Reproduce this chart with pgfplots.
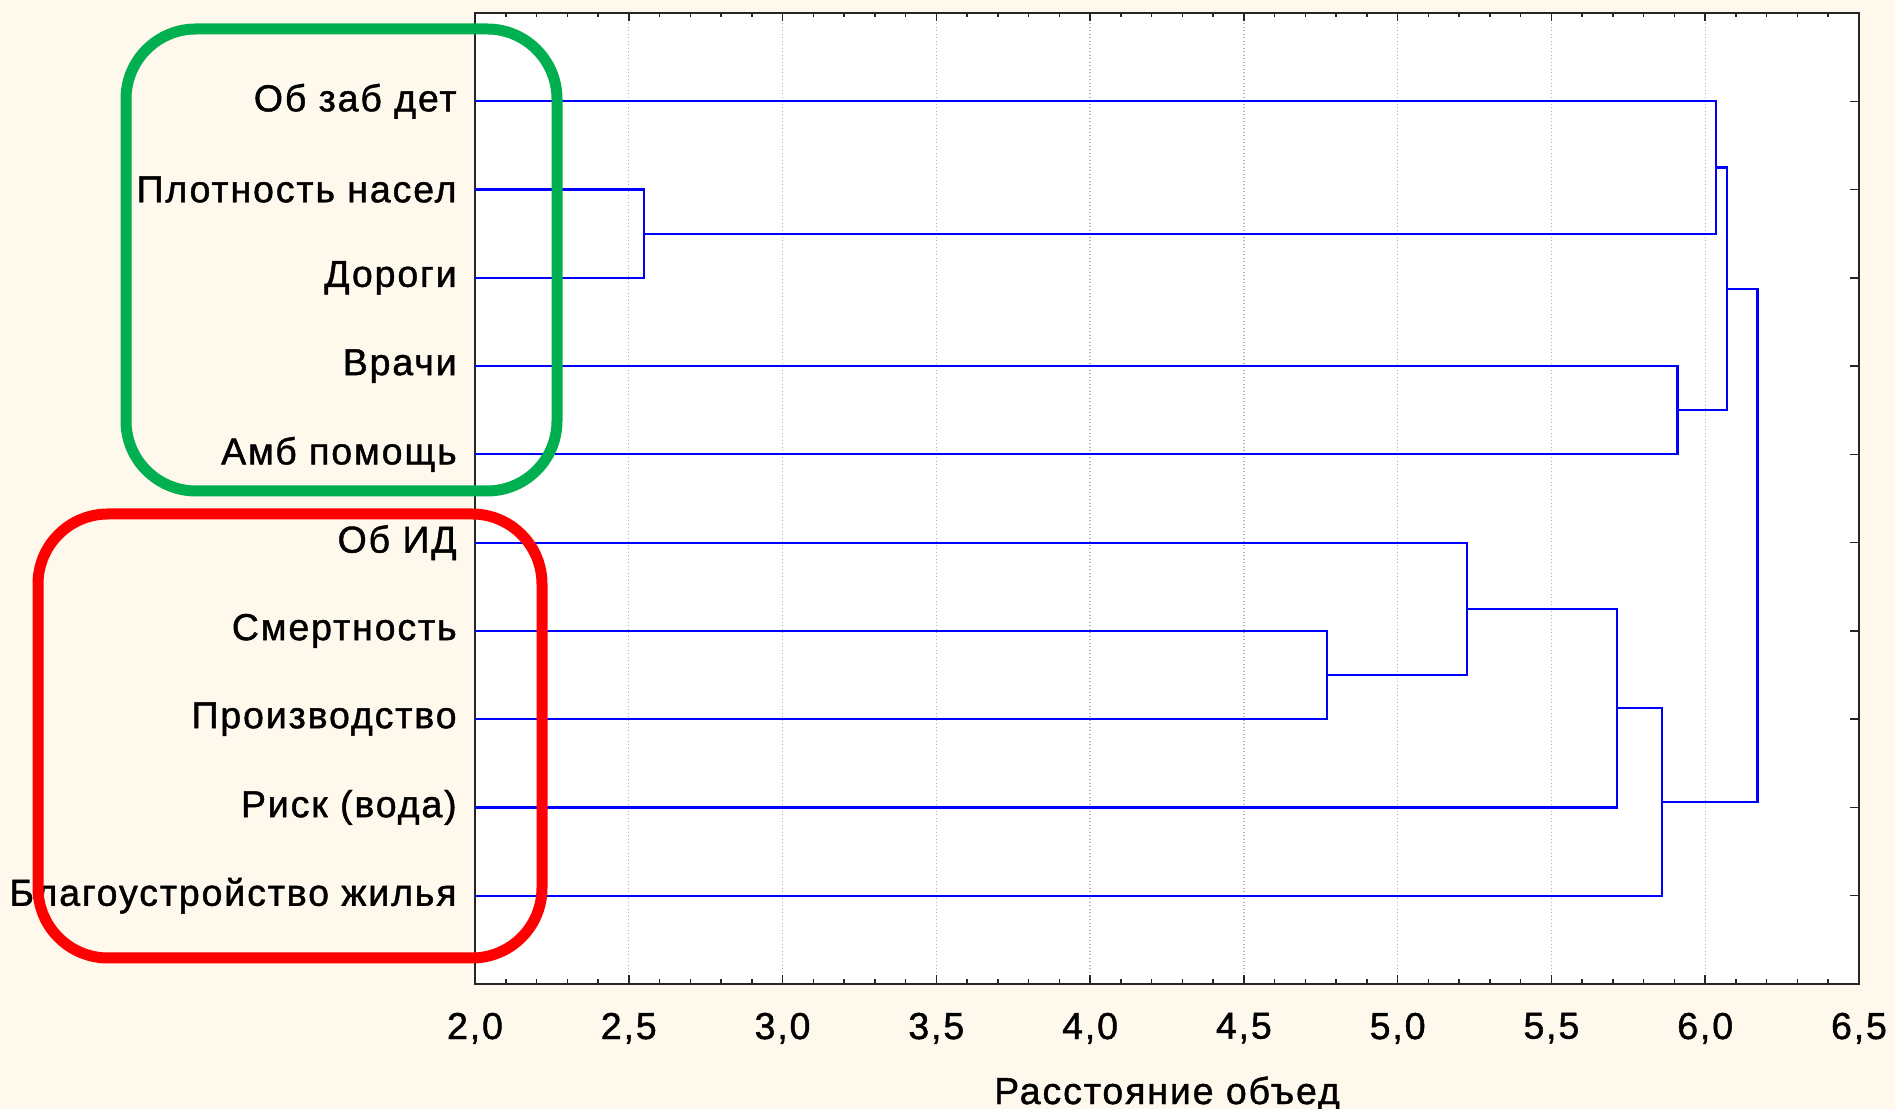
\documentclass[border=0pt]{standalone}
\usepackage{fontspec}
\setmainfont{Liberation Sans}[LetterSpace=5,FakeBold=1.2]
\usepackage{pgfplots}
\pgfplotsset{compat=1.18}
\definecolor{bgcream}{RGB}{255,249,237}
\definecolor{dgreen}{RGB}{0,176,80}
\definecolor{dblue}{RGB}{0,0,255}
\begin{document}
\begin{tikzpicture}[x=1pt,y=1pt]
\fill[bgcream] (0,0) rectangle (758,443.6);
\useasboundingbox (0,0) rectangle (758,443.6);
\begin{axis}[
  at={(190pt,50pt)}, anchor=south west,
  scale only axis, width=553.6pt, height=388.4pt,
  xmin=2, xmax=6.5, ymin=0, ymax=11, y dir=reverse,
  axis background/.style={fill=white},
  axis line style={black!85, line width=0.8pt},
  xtick={2,2.5,3,3.5,4,4.5,5,5.5,6,6.5}, minor x tick num=4,
  ytick={1,2,3,4,5,6,7,8,9,10},
  yticklabels={Об заб дет, Плотность насел, Дороги, Врачи, Амб помощь, Об ИД, Смертность, Производство, Риск (вода), Благоустройство жилья},
  tick align=inside, xtick pos=both, ytick pos=both,
  xticklabel pos=lower, yticklabel pos=left,
  major tick length=3.4pt, minor tick length=1.8pt,
  every tick/.style={black!85, line width=0.6pt},
  xmajorgrids, major grid style={densely dotted, black!30, line width=0.5pt},
  ticklabel style={font=\fontsize{15}{18}\selectfont},
  /pgf/number format/assume math mode=true,
  xticklabel style={/pgf/number format/.cd, fixed, fixed zerofill, precision=1, use comma, /tikz/.cd, yshift=-8pt},
  yticklabel style={xshift=-3.8pt},
  xlabel={Расстояние объед},
  xlabel style={font=\fontsize{15}{18}\selectfont, at={(axis description cs:0.5,0)}, anchor=center, yshift=-44pt},
  dend/.style={dblue, line width=0.85pt, solid, no marks},
]
% Плотность насел + Дороги
\addplot[dend] coordinates {(2,2) (2.55,2) (2.55,3) (2,3)};
% Об заб дет + (П+Д)
\addplot[dend] coordinates {(2,1) (6.036,1) (6.036,2.5) (2.55,2.5)};
% Врачи + Амб помощь
\addplot[dend] coordinates {(2,4) (5.91,4) (5.91,5) (2,5)};
% upper clusters
\addplot[dend] coordinates {(6.036,1.75) (6.07,1.75) (6.07,4.5) (5.91,4.5)};
% Смертность + Производство
\addplot[dend] coordinates {(2,7) (4.77,7) (4.77,8) (2,8)};
% Об ИД + (С+П)
\addplot[dend] coordinates {(2,6) (5.225,6) (5.225,7.5) (4.77,7.5)};
% + Риск (вода)
\addplot[dend] coordinates {(5.225,6.75) (5.713,6.75) (5.713,9) (2,9)};
% + Благоустройство жилья
\addplot[dend] coordinates {(5.713,7.875) (5.86,7.875) (5.86,10) (2,10)};
% final
\addplot[dend] coordinates {(6.07,3.125) (6.17,3.125) (6.17,8.9375) (5.86,8.9375)};
\end{axis}
\draw[dgreen, line width=4.4pt, rounded corners=28pt] (50.4,247.2) rectangle (222.8,432);
\draw[red, line width=4.4pt, rounded corners=28pt] (15.2,60.4) rectangle (216.8,238);
\end{tikzpicture}
\end{document}
